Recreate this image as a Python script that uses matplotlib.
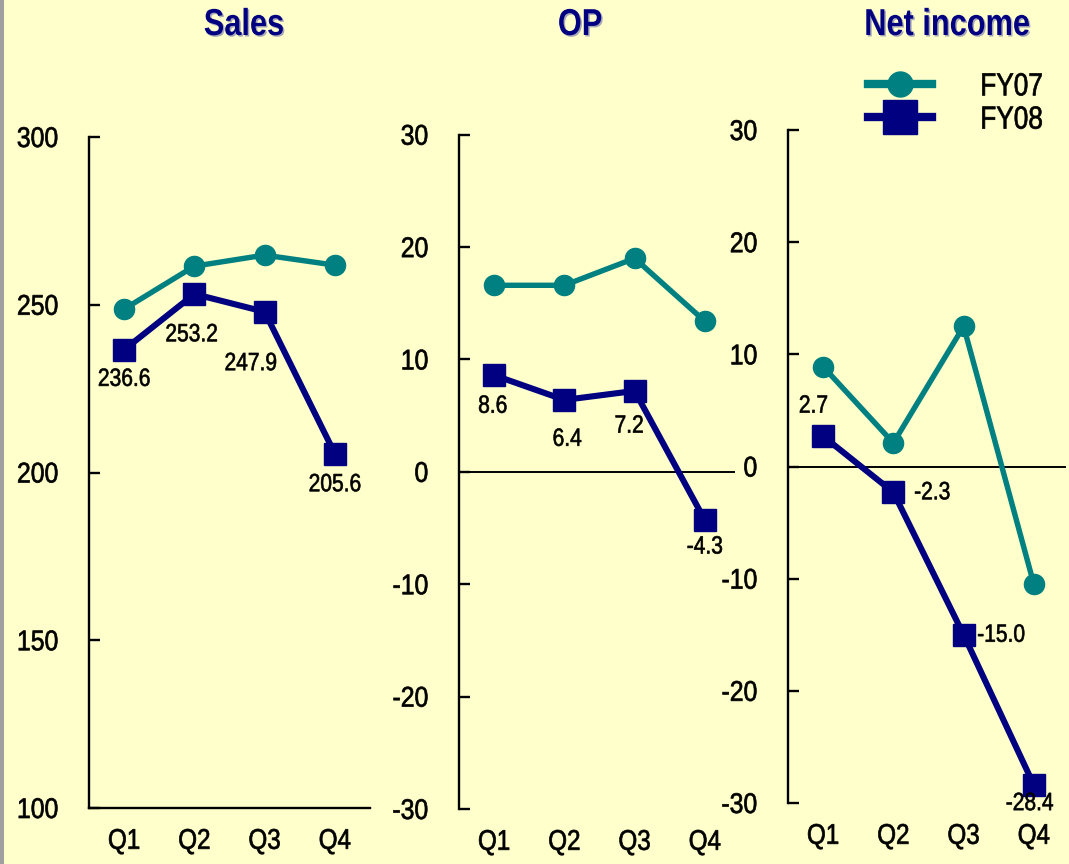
import matplotlib
matplotlib.use("Agg")
import matplotlib.pyplot as plt
import matplotlib.font_manager as fm
import matplotlib.patheffects as pe
from matplotlib.colors import to_rgb
from matplotlib.lines import Line2D
from matplotlib.patches import Rectangle
from matplotlib.transforms import Affine2D

# ---------------- data ----------------
quarters = ["Q1", "Q2", "Q3", "Q4"]
series_names = ["FY07", "FY08"]

sales_fy07 = [248.7, 261.5, 264.8, 261.8]
sales_fy08 = [236.6, 253.2, 247.9, 205.6]
op_fy07 = [16.6, 16.6, 19.0, 13.4]
op_fy08 = [8.6, 6.4, 7.2, -4.3]
ni_fy07 = [8.9, 2.1, 12.5, -10.5]
ni_fy08 = [2.7, -2.3, -15.0, -28.4]

sales_ticks = [100, 150, 200, 250, 300]
pl_ticks = [-30, -20, -10, 0, 10, 20, 30]

titles = ["Sales", "OP", "Net income"]

# label offsets (points) for FY08 value labels
sales_offsets = [(0, -21), (-2, -29), (-10, -37), (0, -22)]
op_offsets = [(-1, -22), (2, -28), (-4, -25), (0, -19)]
ni_offsets = [(-7, 22), (28, 0), (27, 0), (-3, -13)]

# ---------------- style ----------------
names = {f.name for f in fm.fontManager.ttflist}
FONT = "Liberation Sans" if "Liberation Sans" in names else "DejaVu Sans"
plt.rcParams["font.family"] = [FONT, "DejaVu Sans"]

BG = "#FFFFCC"
TEAL = "#008080"
NAVY = "#000080"


class Narrow(pe.AbstractPathEffect):
    """Condense text horizontally (Arial-Narrow look), optional shadow/stroke."""

    def __init__(self, sx=0.82, anchor="center", offset=None, color=None,
                 stroke=0.0):
        super().__init__()
        self.sx = sx
        self.anchor = anchor
        self.off = offset
        self.color = to_rgb(color) if color is not None else None
        self.stroke = stroke

    def draw_path(self, renderer, gc, tpath, affine, rgbFace=None):
        ext = affine.transform_path(tpath).get_extents()
        if self.anchor == "right":
            x0 = ext.x1
        elif self.anchor == "left":
            x0 = ext.x0
        else:
            x0 = 0.5 * (ext.x0 + ext.x1)
        t = affine + Affine2D().translate(-x0, 0).scale(self.sx, 1).translate(x0, 0)
        face = rgbFace
        if self.off is not None:
            t = t + Affine2D().translate(*self.off)
            face = self.color
        gc0 = renderer.new_gc()
        gc0.copy_properties(gc)
        if self.stroke > 0 or self.off is not None:
            gc0.set_foreground(face)
            gc0.set_linewidth(self.stroke)
        renderer.draw_path(gc0, tpath, t, face)
        gc0.restore()


W, H = 1069, 864
fig = plt.figure(figsize=(W / 100, H / 100), dpi=100, facecolor=BG)


def box(x0, x1, ytop, ybot):
    return [x0 / W, 1 - ybot / H, (x1 - x0) / W, (ybot - ytop) / H]


ax_s = fig.add_axes(box(89, 370, 137, 808))
ax_o = fig.add_axes(box(459, 740, 134.7, 809))
ax_n = fig.add_axes(box(788, 1069, 130, 803))

x = [0.5, 1.5, 2.5, 3.5]


def setup(ax, ticks, bottom_spine):
    ax.set_facecolor("none")
    for s in ["top", "right"]:
        ax.spines[s].set_visible(False)
    ax.spines["bottom"].set_visible(bottom_spine)
    ax.spines["left"].set_linewidth(1.7)
    ax.spines["bottom"].set_linewidth(1.7)
    ax.set_xlim(0, 4)
    ax.set_ylim(ticks[0], ticks[-1])
    ax.set_yticks(ticks)
    ax.set_yticklabels([str(t) for t in ticks])
    ax.set_xticks(x)
    ax.set_xticklabels(quarters)
    ax.tick_params(axis="y", direction="in", length=8, width=1.7, pad=22,
                   labelsize=20.5)
    ax.tick_params(axis="x", length=0, pad=15, labelsize=20.5)
    for lab in ax.get_yticklabels():
        lab.set_path_effects([Narrow(0.87, "right", stroke=0.5)])
    for lab in ax.get_xticklabels():
        lab.set_path_effects([Narrow(0.85, "center", stroke=0.5)])


def draw(ax, s07, s08, offsets):
    ax.plot(x, s07, color=TEAL, lw=3.9, marker="o", ms=14.5, clip_on=False,
            zorder=3)
    ax.plot(x, s08, color=NAVY, lw=4.4, marker="s", ms=15.5, clip_on=False,
            zorder=4)
    for xi, v, off in zip(x, s08, offsets):
        t = ax.annotate(f"{v:.1f}", (xi, v), xytext=off,
                        textcoords="offset points", ha="center", va="center",
                        fontsize=18, color="black", zorder=5,
                        annotation_clip=False)
        t.set_path_effects([Narrow(0.84, "center", stroke=0.45)])


setup(ax_s, sales_ticks, True)
setup(ax_o, pl_ticks, False)
setup(ax_n, pl_ticks, False)

ax_o.axhline(0, xmin=0, xmax=0.98, color="black", lw=1.4, zorder=1)
ax_n.axhline(0, xmin=0, xmax=0.986, color="black", lw=1.4, zorder=1)

draw(ax_s, sales_fy07, sales_fy08, sales_offsets)
draw(ax_o, op_fy07, op_fy08, op_offsets)
draw(ax_n, ni_fy07, ni_fy08, ni_offsets)

# titles
for t, cx in zip(titles, [244, 580, 947]):
    fig.text(cx / W, 1 - 25 / H, t, ha="center", va="center", fontsize=27,
             fontweight="bold", color=NAVY,
             path_effects=[Narrow(0.82, "center", offset=(1.5, -1.5),
                                  color="#A8A8B8"),
                           Narrow(0.82, "center")])

# legend
handles = [Line2D([], [], color=TEAL, lw=6, marker="o", ms=18),
           Line2D([], [], color=NAVY, lw=6, marker="s", ms=24)]
leg = fig.legend(handles, series_names, loc="center left",
                 bbox_to_anchor=(868 / W, 1 - 104 / H), frameon=False,
                 fontsize=23, handlelength=2.0, handletextpad=1.5,
                 labelspacing=0.1, borderpad=0, borderaxespad=0)
for txt in leg.get_texts():
    txt.set_path_effects([Narrow(0.82, "left", stroke=0.5)])

# left gray border
fig.patches.append(Rectangle((0, 0), 4 / W, 1, transform=fig.transFigure,
                             facecolor="#A0A0A0", edgecolor="none"))

fig.savefig("out.png", dpi=100, facecolor=BG)
